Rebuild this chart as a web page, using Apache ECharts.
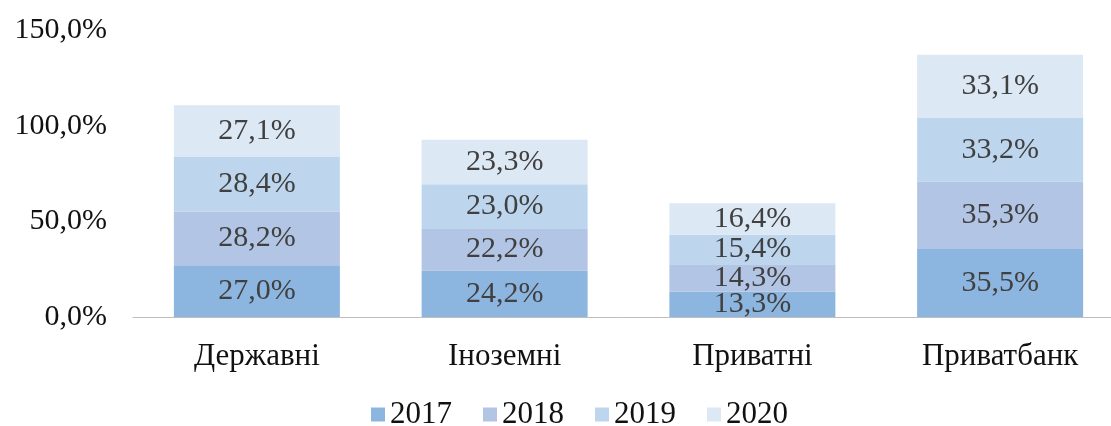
<!DOCTYPE html>
<html>
<head>
<meta charset="utf-8">
<script src="https://cdn.jsdelivr.net/npm/echarts@6/dist/echarts.min.js"></script>
<style>
html,body{margin:0;padding:0;background:#fff;}
#chart{width:1111px;height:426px;}
</style>
</head>
<body>
<div id="chart"></div>
<script>
// категорії і дані (частка, %)
var categories = ['Державні', 'Іноземні', 'Приватні', 'Приватбанк'];
var years = ['2017', '2018', '2019', '2020'];
var v2017 = [27.0, 24.2, 13.3, 35.5];
var v2018 = [28.2, 22.2, 14.3, 35.3];
var v2019 = [28.4, 23.0, 15.4, 33.2];
var v2020 = [27.1, 23.3, 16.4, 33.1];
var yTicks = [0, 50, 100, 150];

var colors = ['#8cb6df', '#b3c5e5', '#bdd6ee', '#dde8f5'];
var font = '"Liberation Serif", "Times New Roman", serif';

function pct(v){
	return v.toFixed(1).replace('.', ',') + '%';
}

var myChart = echarts.init(document.getElementById('chart'));
var seriesData = [v2017, v2018, v2019, v2020];
var series = [];
for (var i = 0; i < years.length; i++) {
	series.push({
		name: years[i],
		type: 'bar',
		stack: 'all',
		barWidth: '67%',
		data: seriesData[i],
		itemStyle: { color: colors[i] },
		label: {
			show: true,
			position: 'inside',
			color: '#404040',
			fontFamily: font,
			fontSize: 30,
			formatter: function (p) { return pct(p.value); }
		}
	});
}

var option = {
	animation: false,
	color: colors,
	grid: { left: 133, width: 991, top: 30, bottom: 109, outerBoundsMode: 'none', containLabel: false },
	legend: {
		data: years,
		top: 394,
		left: 366,
		itemWidth: 14,
		itemHeight: 14,
		itemGap: 31,
		icon: 'rect',
		textStyle: { fontFamily: font, fontSize: 31, color: '#111' }
	},
	xAxis: {
		type: 'category',
		data: categories,
		axisLine: { lineStyle: { color: '#bfbfbf', width: 1 } },
		axisTick: { show: false },
		axisLabel: { fontFamily: font, fontSize: 31, color: '#111', margin: 24 }
	},
	yAxis: {
		type: 'value',
		min: yTicks[0],
		max: yTicks[yTicks.length - 1],
		interval: 50,
		splitLine: { show: false },
		axisLine: { show: false },
		axisTick: { show: false },
		axisLabel: {
			fontFamily: font,
			fontSize: 30,
			color: '#111',
			margin: 26,
			formatter: function (v) { return pct(v); }
		}
	},
	series: series
};
myChart.setOption(option);
</script>
</body>
</html>
